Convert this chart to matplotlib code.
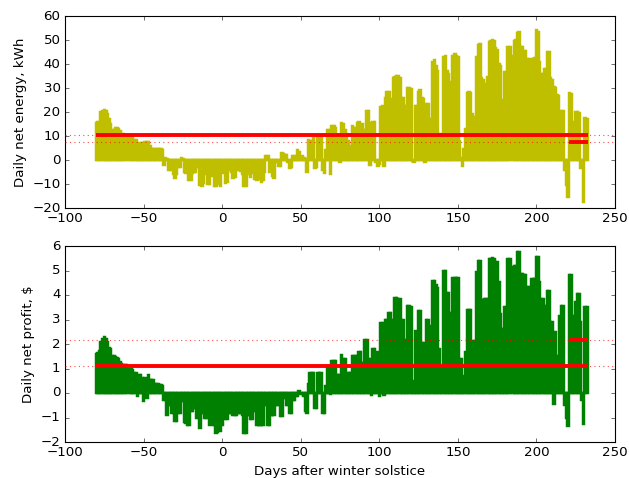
import numpy as np
import matplotlib
matplotlib.use("Agg")
import matplotlib.pyplot as plt

plt.style.use("classic")

nan = np.nan
first_day, last_day = -80, 232
days = np.arange(first_day, last_day + 1)

# Daily net energy (kWh), days -80 .. 232
energy = [
    15.5, 15.7, 16.0, 19.8, 20.3, 20.7, 20.5, 19.0, 17.0, 15.0,      # -80
    12.5, 12.5, 13.5, 13.5, 13.0, 12.0, 11.0, 11.0, 10.5, 10.0,      # -70
    nan, 9.5, 9.5, 9.0, 8.5, 8.5, 7.0, 5.5, 7.0, 7.2,                # -60
    5.0, 7.5, 7.5, 7.5, 6.0, 4.5, 4.5, 4.5, 4.5, 4.5,                # -50
    4.5, 4.5, 4.0, -2.0, 1.0, 0.5, -4.0, -4.0, -2.0, -6.0,           # -40
    -7.5, -6.0, -3.0, -3.0, 1.0, 0.5, -5.0, -5.5, -5.0, -8.5,        # -30
    -8.5, -5.5, -5.0, -5.0, -3.0, -3.0, -10.5, -10.8, -9.5, -6.0,    # -20
    -5.5, -10.0, -10.0, -6.0, -6.5, -11.0, -11.0, -10.0, -7.0, -11.0,  # -10
    -5.0, -5.5, -9.5, -9.0, -4.0, -3.5, -5.0, -7.5, -7.0, -4.0,      # 0
    -4.0, -3.5, -4.5, -6.0, -11.0, -11.0, -6.0, -5.0, -7.0, -5.5,    # 10
    -4.5, -8.0, -8.5, -7.5, -8.0, -9.0, -8.5, -5.0, 1.5, 1.5,        # 20
    -5.0, -4.0, -6.5, -7.5, -1.0, -1.0, -2.5, -2.5, 3.0, 2.5,        # 30
    2.0, 2.0, -1.0, -3.5, -3.0, 1.5, 1.5, 0.5, 4.0, 3.5,             # 40
    1.0, 1.5, 1.0, 0.5, -5.0, 8.5, 8.0, 8.0, 9.0, -3.5,              # 50
    -3.0, 10.0, 10.0, 9.5, -4.0, -5.5, 4.0, 12.5, 12.5, -6.0,        # 60
    14.0, 14.0, 13.5, 9.0, 9.5, -1.0, 15.5, 15.0, 12.5, 11.0,        # 70
    8.0, 6.0, 3.0, 14.0, 13.5, 13.5, 15.5, 16.0, 13.5, 15.0,         # 80
    12.5, 12.5, 20.5, 20.5, -2.0, 15.5, 16.0, 16.0, -1.0, -2.5,      # 90
    -1.5, 22.0, 22.5, -2.5, 26.0, 28.5, 28.5, 25.0, 25.5, 34.0,      # 100
    34.5, 35.0, 35.0, 34.0, 26.0, 26.0, 22.5, 22.5, 30.0, 30.0,      # 110
    29.5, -0.5, -1.0, 22.5, 22.5, 28.5, 29.0, 26.0, 25.5, -1.0,      # 120
    23.5, 23.5, 17.0, 17.0, 41.0, 41.5, 39.0, 37.0, 8.5, 11.0,       # 130
    6.0, 43.0, 43.5, 37.0, 36.0, 32.5, 32.0, 43.5, 44.0, 43.5,       # 140
    43.0, 8.0, 1.0, -2.5, 4.5, 13.0, 28.0, 28.5, 28.0, 19.0,         # 150
    18.0, 14.5, 43.0, 48.0, 48.5, 34.0, 33.5, 31.5, 31.5, 34.5,      # 160
    49.0, 49.5, 50.0, 49.5, 46.5, 46.0, 40.0, 39.0, 25.0, 24.5,      # 170
    36.5, 36.5, 47.0, 47.0, nan, 43.5, 49.5, 50.0, 53.0, 53.5,       # 180
    47.0, 47.0, 45.5, 45.5, 42.0, 42.0, 22.5, 42.0, 42.0, 42.5,      # 190
    54.0, 53.5, 41.0, 36.0, 36.0, 38.0, 38.0, 45.0, 45.0, 34.0,      # 200
    33.5, 30.5, 30.0, 27.0, 26.5, 18.5, 20.5, 20.5, -4.0, -10.5,     # 210
    -15.5, 28.0, 27.5, 15.5, 16.0, 20.0, 20.0, 19.5, -3.5, -3.0,     # 220
    -17.5, 17.5, 17.0,                                               # 230
]

# Daily net profit ($), days -80 .. 232
profit = [
    1.6, 1.65, 1.7, 2.1, 2.2, 2.28, 2.2, 2.1, 1.85, 1.8,             # -80
    1.5, 1.5, 1.45, 1.43, 1.4, 1.25, 1.2, 1.15, 1.16, 1.15,          # -70
    nan, 0.96, 0.96, 0.95, 0.82, 0.82, -0.13, 0.75, 0.75, 0.62,      # -60
    -0.33, 0.62, -0.2, 0.75, 0.55, 0.55, 0.55, 0.35, 0.35, 0.35,     # -50
    0.32, 0.32, 0.3, -0.27, -0.27, -0.88, -0.47, -0.47, -0.81, -0.81,  # -40
    -1.15, -1.15, -0.8, -0.8, -0.33, -0.33, -1.2, -1.22, -1.29, -1.29,  # -30
    -0.74, -0.74, -0.6, -0.6, -1.0, -1.0, -1.42, -0.81, -0.81, -1.0,  # -20
    -1.0, -0.88, -1.29, -0.9, -1.29, -1.29, -1.63, -1.6, -1.0, -1.56,  # -10
    -1.29, -0.8, -1.08, -1.08, -0.8, -0.8, -0.8, -0.88, -0.88, -0.88,  # 0
    -0.8, -0.8, -0.8, -0.9, -1.63, -1.63, -0.88, -0.88, -1.08, -1.08,  # 10
    -0.74, -0.74, -1.29, -1.29, -1.29, -1.29, -1.29, -0.47, -0.47, -1.29,  # 20
    -1.29, -0.88, -0.88, -0.88, -0.47, -0.47, -0.47, -0.95, -0.95, -0.2,  # 30
    -0.2, -0.47, -0.47, -0.8, -0.8, -0.27, -0.27, -0.13, -0.13, 0.07,  # 40
    -0.06, -0.06, -0.13, -0.74, -0.8, 0.35, 0.82, 0.82, 0.82, -0.6,  # 50
    -0.6, 0.82, 0.82, 0.82, -0.81, -0.81, 0.28, 1.03, 1.03, -0.06,   # 60
    1.3, 1.3, 1.3, 0.75, 0.75, 0.75, 1.57, 1.4, 1.37, 0.55,          # 70
    0.82, 0.82, 0.82, 1.5, 1.5, 1.5, 1.5, 1.67, 1.67, 1.23,          # 80
    1.23, 2.18, 2.18, 1.37, 1.37, -0.1, 1.8, 1.8, 1.64, 1.67,        # 90
    -0.13, 2.86, 2.86, -0.1, 3.0, 3.0, 3.27, 3.27, 3.0, 3.0,         # 100
    3.88, 3.88, 3.84, 3.84, 3.0, 3.0, 2.18, 2.18, 3.54, 3.54,        # 110
    3.5, 0.5, 0.3, 2.52, 2.18, 3.34, 3.34, 2.05, 2.05, 0.2,          # 120
    2.97, 2.97, 2.73, 1.8, 4.56, 4.56, 4.4, 4.29, 1.78, 0.96,        # 130
    0.96, 4.97, 4.97, 4.09, 4.09, 3.27, 3.27, 4.7, 4.7, 4.7,         # 140
    4.7, 1.37, 1.37, 0.69, 0.58, 1.67, 3.37, 3.4, 3.37, 2.07,        # 150
    2.14, 2.14, 4.93, 5.4, 5.4, 3.78, 3.8, 3.84, 3.84, 3.84,         # 160
    5.48, 5.48, 5.5, 5.45, 5.34, 5.34, 4.52, 3.23, 2.6, 2.6,         # 170
    3.5, 3.5, 5.48, 5.48, nan, 5.14, 5.2, 5.2, 5.75, 5.75,           # 180
    4.86, 4.86, 4.8, 4.8, 4.32, 4.32, 2.82, 4.66, 4.66, 4.66,        # 190
    5.54, 5.54, 4.52, 3.84, 3.84, 3.57, 3.57, 4.18, 4.18, 2.89,      # 200
    2.89, -0.44, 2.48, 1.53, 1.53, 3.16, 3.57, 3.57, -0.5, -1.0,     # 210
    -1.33, 4.8, 4.8, 3.16, 3.16, 3.7, 4.05, 4.05, 2.89, -0.3,        # 220
    -1.26, 3.5, 3.5,                                                 # 230
]

# Reference levels: whole-period average and recent-period average
energy_avg, energy_recent = 10.4, 7.4
profit_avg, profit_recent = 1.09, 2.18
recent_start = 220.5

xticks = [-100, -50, 0, 50, 100, 150, 200, 250]

fig = plt.figure(figsize=(629 / 80, 478 / 80), dpi=80)
fig.patch.set_facecolor("white")

ax1 = fig.add_axes([65 / 629, 1 - 208 / 478, 550 / 629, 192 / 478])
ax2 = fig.add_axes([65 / 629, 1 - 442 / 478, 550 / 629, 196 / 478])

panels = [
    (ax1, energy, "y", energy_avg, energy_recent, (-20, 60), 10,
     "Daily net energy, kWh"),
    (ax2, profit, "g", profit_avg, profit_recent, (-2, 6), 1,
     r"Daily net profit, \$"),
]

for ax, vals, col, avg, recent, ylim, ystep, ylabel in panels:
    vals = np.asarray(vals, dtype=float)
    ax.bar(days, vals, width=1.0, color=col, edgecolor=col, linewidth=2.2,
           align="center", zorder=2)
    ax.hlines(avg, days[0] - 0.5, days[-1] + 0.5, colors="r",
              linewidth=3.5, zorder=3)
    ax.hlines(recent, recent_start, days[-1] + 0.5, colors="r",
              linewidth=3.5, zorder=3)
    ax.axhline(avg, color="r", linestyle=":", linewidth=1, alpha=0.7, zorder=4)
    ax.axhline(recent, color="r", linestyle=":", linewidth=1, alpha=0.7, zorder=4)
    ax.set_xlim(-100, 250)
    ax.set_xticks(xticks)
    ax.set_ylim(*ylim)
    ax.set_yticks(np.arange(ylim[0], ylim[1] + ystep, ystep))
    ax.set_ylabel(ylabel, fontsize=12)
    ax.tick_params(labelsize=12)

ax2.set_xlabel("Days after winter solstice", fontsize=12)

fig.savefig("out.png", dpi=80, facecolor="white")
